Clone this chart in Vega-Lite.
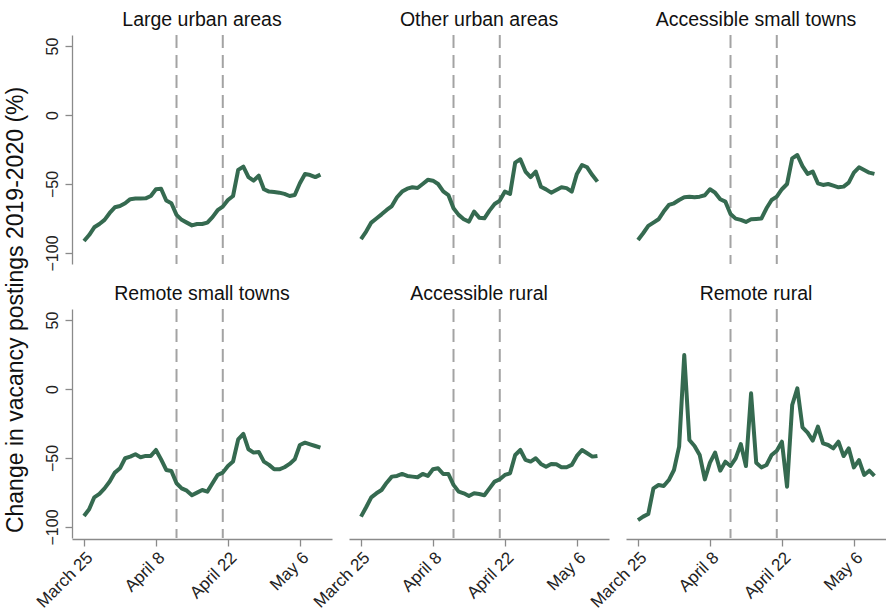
{
"$schema": "https://vega.github.io/schema/vega-lite/v6.json",
"padding": {"left": 5, "top": 9, "right": 0, "bottom": 0},
"title": {"text": "Change in vacancy postings 2019-2020 (%)", "orient": "left", "anchor": "middle", "fontSize": 23, "fontWeight": "normal", "font": "Liberation Sans", "color": "#111111", "offset": 5},
"data": {"values": [
{"r":"Large urban areas","e":"2020-04-12"},{"r":"Large urban areas","e":"2020-04-21"},
{"r":"Other urban areas","e":"2020-04-12"},{"r":"Other urban areas","e":"2020-04-21"},
{"r":"Accessible small towns","e":"2020-04-12"},{"r":"Accessible small towns","e":"2020-04-21"},
{"r":"Remote small towns","e":"2020-04-12"},{"r":"Remote small towns","e":"2020-04-21"},
{"r":"Accessible rural","e":"2020-04-12"},{"r":"Accessible rural","e":"2020-04-21"},
{"r":"Remote rural","e":"2020-04-12"},{"r":"Remote rural","e":"2020-04-21"},
{"r":"Large urban areas","d":"2020-03-25","v":-91.3},
{"r":"Large urban areas","d":"2020-03-26","v":-87},
{"r":"Large urban areas","d":"2020-03-27","v":-81.4},
{"r":"Large urban areas","d":"2020-03-28","v":-79},
{"r":"Large urban areas","d":"2020-03-29","v":-76},
{"r":"Large urban areas","d":"2020-03-30","v":-71},
{"r":"Large urban areas","d":"2020-03-31","v":-66.9},
{"r":"Large urban areas","d":"2020-04-01","v":-66},
{"r":"Large urban areas","d":"2020-04-02","v":-64},
{"r":"Large urban areas","d":"2020-04-03","v":-61},
{"r":"Large urban areas","d":"2020-04-04","v":-60.6},
{"r":"Large urban areas","d":"2020-04-05","v":-60.6},
{"r":"Large urban areas","d":"2020-04-06","v":-60.4},
{"r":"Large urban areas","d":"2020-04-07","v":-58.7},
{"r":"Large urban areas","d":"2020-04-08","v":-53.8},
{"r":"Large urban areas","d":"2020-04-09","v":-53.4},
{"r":"Large urban areas","d":"2020-04-10","v":-62},
{"r":"Large urban areas","d":"2020-04-11","v":-64},
{"r":"Large urban areas","d":"2020-04-12","v":-72.4},
{"r":"Large urban areas","d":"2020-04-13","v":-76},
{"r":"Large urban areas","d":"2020-04-14","v":-78},
{"r":"Large urban areas","d":"2020-04-15","v":-80},
{"r":"Large urban areas","d":"2020-04-16","v":-79},
{"r":"Large urban areas","d":"2020-04-17","v":-79},
{"r":"Large urban areas","d":"2020-04-18","v":-78},
{"r":"Large urban areas","d":"2020-04-19","v":-74},
{"r":"Large urban areas","d":"2020-04-20","v":-69},
{"r":"Large urban areas","d":"2020-04-21","v":-66.4},
{"r":"Large urban areas","d":"2020-04-22","v":-61.6},
{"r":"Large urban areas","d":"2020-04-23","v":-58.7},
{"r":"Large urban areas","d":"2020-04-24","v":-39.8},
{"r":"Large urban areas","d":"2020-04-25","v":-37.4},
{"r":"Large urban areas","d":"2020-04-26","v":-45},
{"r":"Large urban areas","d":"2020-04-27","v":-47.6},
{"r":"Large urban areas","d":"2020-04-28","v":-44},
{"r":"Large urban areas","d":"2020-04-29","v":-53.8},
{"r":"Large urban areas","d":"2020-04-30","v":-55.5},
{"r":"Large urban areas","d":"2020-05-01","v":-55.8},
{"r":"Large urban areas","d":"2020-05-02","v":-56.3},
{"r":"Large urban areas","d":"2020-05-03","v":-57.2},
{"r":"Large urban areas","d":"2020-05-04","v":-58.7},
{"r":"Large urban areas","d":"2020-05-05","v":-58},
{"r":"Large urban areas","d":"2020-05-06","v":-49.5},
{"r":"Large urban areas","d":"2020-05-07","v":-42.7},
{"r":"Large urban areas","d":"2020-05-08","v":-43.5},
{"r":"Large urban areas","d":"2020-05-09","v":-45},
{"r":"Large urban areas","d":"2020-05-10","v":-43.2},
{"r":"Other urban areas","d":"2020-03-25","v":-90},
{"r":"Other urban areas","d":"2020-03-26","v":-84.5},
{"r":"Other urban areas","d":"2020-03-27","v":-78},
{"r":"Other urban areas","d":"2020-03-28","v":-75},
{"r":"Other urban areas","d":"2020-03-29","v":-72},
{"r":"Other urban areas","d":"2020-03-30","v":-68.8},
{"r":"Other urban areas","d":"2020-03-31","v":-66},
{"r":"Other urban areas","d":"2020-04-01","v":-59.6},
{"r":"Other urban areas","d":"2020-04-02","v":-55.5},
{"r":"Other urban areas","d":"2020-04-03","v":-53.4},
{"r":"Other urban areas","d":"2020-04-04","v":-52.4},
{"r":"Other urban areas","d":"2020-04-05","v":-52.9},
{"r":"Other urban areas","d":"2020-04-06","v":-50},
{"r":"Other urban areas","d":"2020-04-07","v":-47},
{"r":"Other urban areas","d":"2020-04-08","v":-47.6},
{"r":"Other urban areas","d":"2020-04-09","v":-50},
{"r":"Other urban areas","d":"2020-04-10","v":-55.3},
{"r":"Other urban areas","d":"2020-04-11","v":-58},
{"r":"Other urban areas","d":"2020-04-12","v":-67.6},
{"r":"Other urban areas","d":"2020-04-13","v":-72.4},
{"r":"Other urban areas","d":"2020-04-14","v":-75.6},
{"r":"Other urban areas","d":"2020-04-15","v":-77.3},
{"r":"Other urban areas","d":"2020-04-16","v":-70},
{"r":"Other urban areas","d":"2020-04-17","v":-74.4},
{"r":"Other urban areas","d":"2020-04-18","v":-74.9},
{"r":"Other urban areas","d":"2020-04-19","v":-69.3},
{"r":"Other urban areas","d":"2020-04-20","v":-64.5},
{"r":"Other urban areas","d":"2020-04-21","v":-62},
{"r":"Other urban areas","d":"2020-04-22","v":-55.5},
{"r":"Other urban areas","d":"2020-04-23","v":-57.2},
{"r":"Other urban areas","d":"2020-04-24","v":-34.5},
{"r":"Other urban areas","d":"2020-04-25","v":-32.1},
{"r":"Other urban areas","d":"2020-04-26","v":-41},
{"r":"Other urban areas","d":"2020-04-27","v":-45},
{"r":"Other urban areas","d":"2020-04-28","v":-41},
{"r":"Other urban areas","d":"2020-04-29","v":-52},
{"r":"Other urban areas","d":"2020-04-30","v":-53.9},
{"r":"Other urban areas","d":"2020-05-01","v":-56.3},
{"r":"Other urban areas","d":"2020-05-02","v":-54.3},
{"r":"Other urban areas","d":"2020-05-03","v":-52.4},
{"r":"Other urban areas","d":"2020-05-04","v":-53},
{"r":"Other urban areas","d":"2020-05-05","v":-55.5},
{"r":"Other urban areas","d":"2020-05-06","v":-42.7},
{"r":"Other urban areas","d":"2020-05-07","v":-36.2},
{"r":"Other urban areas","d":"2020-05-08","v":-37.9},
{"r":"Other urban areas","d":"2020-05-09","v":-43.5},
{"r":"Other urban areas","d":"2020-05-10","v":-48.3},
{"r":"Accessible small towns","d":"2020-03-25","v":-90.6},
{"r":"Accessible small towns","d":"2020-03-26","v":-85.7},
{"r":"Accessible small towns","d":"2020-03-27","v":-80.4},
{"r":"Accessible small towns","d":"2020-03-28","v":-78},
{"r":"Accessible small towns","d":"2020-03-29","v":-75.6},
{"r":"Accessible small towns","d":"2020-03-30","v":-70},
{"r":"Accessible small towns","d":"2020-03-31","v":-65.2},
{"r":"Accessible small towns","d":"2020-04-01","v":-64},
{"r":"Accessible small towns","d":"2020-04-02","v":-61.6},
{"r":"Accessible small towns","d":"2020-04-03","v":-59.6},
{"r":"Accessible small towns","d":"2020-04-04","v":-59.2},
{"r":"Accessible small towns","d":"2020-04-05","v":-59.6},
{"r":"Accessible small towns","d":"2020-04-06","v":-59.2},
{"r":"Accessible small towns","d":"2020-04-07","v":-58.2},
{"r":"Accessible small towns","d":"2020-04-08","v":-53.8},
{"r":"Accessible small towns","d":"2020-04-09","v":-56.3},
{"r":"Accessible small towns","d":"2020-04-10","v":-61.1},
{"r":"Accessible small towns","d":"2020-04-11","v":-62.8},
{"r":"Accessible small towns","d":"2020-04-12","v":-71.7},
{"r":"Accessible small towns","d":"2020-04-13","v":-75.1},
{"r":"Accessible small towns","d":"2020-04-14","v":-76},
{"r":"Accessible small towns","d":"2020-04-15","v":-77.5},
{"r":"Accessible small towns","d":"2020-04-16","v":-75.6},
{"r":"Accessible small towns","d":"2020-04-17","v":-75.3},
{"r":"Accessible small towns","d":"2020-04-18","v":-75.1},
{"r":"Accessible small towns","d":"2020-04-19","v":-67.6},
{"r":"Accessible small towns","d":"2020-04-20","v":-61.6},
{"r":"Accessible small towns","d":"2020-04-21","v":-59.2},
{"r":"Accessible small towns","d":"2020-04-22","v":-53.8},
{"r":"Accessible small towns","d":"2020-04-23","v":-50},
{"r":"Accessible small towns","d":"2020-04-24","v":-31.4},
{"r":"Accessible small towns","d":"2020-04-25","v":-29},
{"r":"Accessible small towns","d":"2020-04-26","v":-37},
{"r":"Accessible small towns","d":"2020-04-27","v":-42.7},
{"r":"Accessible small towns","d":"2020-04-28","v":-41},
{"r":"Accessible small towns","d":"2020-04-29","v":-49.5},
{"r":"Accessible small towns","d":"2020-04-30","v":-50.7},
{"r":"Accessible small towns","d":"2020-05-01","v":-50},
{"r":"Accessible small towns","d":"2020-05-02","v":-51.2},
{"r":"Accessible small towns","d":"2020-05-03","v":-52.4},
{"r":"Accessible small towns","d":"2020-05-04","v":-51.9},
{"r":"Accessible small towns","d":"2020-05-05","v":-49},
{"r":"Accessible small towns","d":"2020-05-06","v":-41.8},
{"r":"Accessible small towns","d":"2020-05-07","v":-37.9},
{"r":"Accessible small towns","d":"2020-05-08","v":-39.8},
{"r":"Accessible small towns","d":"2020-05-09","v":-41.8},
{"r":"Accessible small towns","d":"2020-05-10","v":-42.7},
{"r":"Remote small towns","d":"2020-03-25","v":-92},
{"r":"Remote small towns","d":"2020-03-26","v":-87.2},
{"r":"Remote small towns","d":"2020-03-27","v":-78.5},
{"r":"Remote small towns","d":"2020-03-28","v":-76},
{"r":"Remote small towns","d":"2020-03-29","v":-72},
{"r":"Remote small towns","d":"2020-03-30","v":-67.1},
{"r":"Remote small towns","d":"2020-03-31","v":-60.6},
{"r":"Remote small towns","d":"2020-04-01","v":-57.5},
{"r":"Remote small towns","d":"2020-04-02","v":-50.2},
{"r":"Remote small towns","d":"2020-04-03","v":-49},
{"r":"Remote small towns","d":"2020-04-04","v":-47.3},
{"r":"Remote small towns","d":"2020-04-05","v":-49.5},
{"r":"Remote small towns","d":"2020-04-06","v":-48.5},
{"r":"Remote small towns","d":"2020-04-07","v":-48.5},
{"r":"Remote small towns","d":"2020-04-08","v":-44.2},
{"r":"Remote small towns","d":"2020-04-09","v":-51},
{"r":"Remote small towns","d":"2020-04-10","v":-58.7},
{"r":"Remote small towns","d":"2020-04-11","v":-59.4},
{"r":"Remote small towns","d":"2020-04-12","v":-68.3},
{"r":"Remote small towns","d":"2020-04-13","v":-72},
{"r":"Remote small towns","d":"2020-04-14","v":-73.7},
{"r":"Remote small towns","d":"2020-04-15","v":-77},
{"r":"Remote small towns","d":"2020-04-16","v":-75.1},
{"r":"Remote small towns","d":"2020-04-17","v":-73.2},
{"r":"Remote small towns","d":"2020-04-18","v":-74.4},
{"r":"Remote small towns","d":"2020-04-19","v":-68.3},
{"r":"Remote small towns","d":"2020-04-20","v":-62.3},
{"r":"Remote small towns","d":"2020-04-21","v":-60.6},
{"r":"Remote small towns","d":"2020-04-22","v":-55.8},
{"r":"Remote small towns","d":"2020-04-23","v":-52.6},
{"r":"Remote small towns","d":"2020-04-24","v":-36.5},
{"r":"Remote small towns","d":"2020-04-25","v":-32.6},
{"r":"Remote small towns","d":"2020-04-26","v":-43.7},
{"r":"Remote small towns","d":"2020-04-27","v":-46.1},
{"r":"Remote small towns","d":"2020-04-28","v":-45.6},
{"r":"Remote small towns","d":"2020-04-29","v":-52.6},
{"r":"Remote small towns","d":"2020-04-30","v":-55},
{"r":"Remote small towns","d":"2020-05-01","v":-58.2},
{"r":"Remote small towns","d":"2020-05-02","v":-58.2},
{"r":"Remote small towns","d":"2020-05-03","v":-56.7},
{"r":"Remote small towns","d":"2020-05-04","v":-54.3},
{"r":"Remote small towns","d":"2020-05-05","v":-51},
{"r":"Remote small towns","d":"2020-05-06","v":-40.6},
{"r":"Remote small towns","d":"2020-05-07","v":-38.9},
{"r":"Remote small towns","d":"2020-05-08","v":-40.1},
{"r":"Remote small towns","d":"2020-05-09","v":-41.3},
{"r":"Remote small towns","d":"2020-05-10","v":-42.5},
{"r":"Accessible rural","d":"2020-03-25","v":-92.5},
{"r":"Accessible rural","d":"2020-03-26","v":-85.7},
{"r":"Accessible rural","d":"2020-03-27","v":-78.5},
{"r":"Accessible rural","d":"2020-03-28","v":-75.6},
{"r":"Accessible rural","d":"2020-03-29","v":-73.2},
{"r":"Accessible rural","d":"2020-03-30","v":-67.9},
{"r":"Accessible rural","d":"2020-03-31","v":-63.5},
{"r":"Accessible rural","d":"2020-04-01","v":-63},
{"r":"Accessible rural","d":"2020-04-02","v":-61.6},
{"r":"Accessible rural","d":"2020-04-03","v":-63},
{"r":"Accessible rural","d":"2020-04-04","v":-63.5},
{"r":"Accessible rural","d":"2020-04-05","v":-64},
{"r":"Accessible rural","d":"2020-04-06","v":-61.6},
{"r":"Accessible rural","d":"2020-04-07","v":-63},
{"r":"Accessible rural","d":"2020-04-08","v":-58.2},
{"r":"Accessible rural","d":"2020-04-09","v":-57.5},
{"r":"Accessible rural","d":"2020-04-10","v":-61.6},
{"r":"Accessible rural","d":"2020-04-11","v":-61.6},
{"r":"Accessible rural","d":"2020-04-12","v":-69.5},
{"r":"Accessible rural","d":"2020-04-13","v":-74.4},
{"r":"Accessible rural","d":"2020-04-14","v":-75.6},
{"r":"Accessible rural","d":"2020-04-15","v":-77.5},
{"r":"Accessible rural","d":"2020-04-16","v":-75.6},
{"r":"Accessible rural","d":"2020-04-17","v":-76.1},
{"r":"Accessible rural","d":"2020-04-18","v":-77},
{"r":"Accessible rural","d":"2020-04-19","v":-72},
{"r":"Accessible rural","d":"2020-04-20","v":-67.1},
{"r":"Accessible rural","d":"2020-04-21","v":-65.4},
{"r":"Accessible rural","d":"2020-04-22","v":-62.3},
{"r":"Accessible rural","d":"2020-04-23","v":-61.1},
{"r":"Accessible rural","d":"2020-04-24","v":-47.8},
{"r":"Accessible rural","d":"2020-04-25","v":-44.2},
{"r":"Accessible rural","d":"2020-04-26","v":-51.4},
{"r":"Accessible rural","d":"2020-04-27","v":-52.6},
{"r":"Accessible rural","d":"2020-04-28","v":-50.2},
{"r":"Accessible rural","d":"2020-04-29","v":-54.3},
{"r":"Accessible rural","d":"2020-04-30","v":-56.3},
{"r":"Accessible rural","d":"2020-05-01","v":-54.3},
{"r":"Accessible rural","d":"2020-05-02","v":-54.6},
{"r":"Accessible rural","d":"2020-05-03","v":-56.7},
{"r":"Accessible rural","d":"2020-05-04","v":-56.7},
{"r":"Accessible rural","d":"2020-05-05","v":-55},
{"r":"Accessible rural","d":"2020-05-06","v":-48.5},
{"r":"Accessible rural","d":"2020-05-07","v":-44.2},
{"r":"Accessible rural","d":"2020-05-08","v":-46.6},
{"r":"Accessible rural","d":"2020-05-09","v":-49},
{"r":"Accessible rural","d":"2020-05-10","v":-48.5},
{"r":"Remote rural","d":"2020-03-25","v":-95},
{"r":"Remote rural","d":"2020-03-26","v":-92.5},
{"r":"Remote rural","d":"2020-03-27","v":-90.6},
{"r":"Remote rural","d":"2020-03-28","v":-72},
{"r":"Remote rural","d":"2020-03-29","v":-69.6},
{"r":"Remote rural","d":"2020-03-30","v":-70.3},
{"r":"Remote rural","d":"2020-03-31","v":-66},
{"r":"Remote rural","d":"2020-04-01","v":-58.7},
{"r":"Remote rural","d":"2020-04-02","v":-41.8},
{"r":"Remote rural","d":"2020-04-03","v":24.6},
{"r":"Remote rural","d":"2020-04-04","v":-37},
{"r":"Remote rural","d":"2020-04-05","v":-41.3},
{"r":"Remote rural","d":"2020-04-06","v":-47.8},
{"r":"Remote rural","d":"2020-04-07","v":-65.5},
{"r":"Remote rural","d":"2020-04-08","v":-53.4},
{"r":"Remote rural","d":"2020-04-09","v":-46.1},
{"r":"Remote rural","d":"2020-04-10","v":-59.2},
{"r":"Remote rural","d":"2020-04-11","v":-52.7},
{"r":"Remote rural","d":"2020-04-12","v":-55.8},
{"r":"Remote rural","d":"2020-04-13","v":-50.3},
{"r":"Remote rural","d":"2020-04-14","v":-39.9},
{"r":"Remote rural","d":"2020-04-15","v":-55.8},
{"r":"Remote rural","d":"2020-04-16","v":-3.1},
{"r":"Remote rural","d":"2020-04-17","v":-53.4},
{"r":"Remote rural","d":"2020-04-18","v":-56.8},
{"r":"Remote rural","d":"2020-04-19","v":-55.1},
{"r":"Remote rural","d":"2020-04-20","v":-47.8},
{"r":"Remote rural","d":"2020-04-21","v":-44.7},
{"r":"Remote rural","d":"2020-04-22","v":-38.2},
{"r":"Remote rural","d":"2020-04-23","v":-70.8},
{"r":"Remote rural","d":"2020-04-24","v":-11.6},
{"r":"Remote rural","d":"2020-04-25","v":0.5},
{"r":"Remote rural","d":"2020-04-26","v":-27.8},
{"r":"Remote rural","d":"2020-04-27","v":-31.6},
{"r":"Remote rural","d":"2020-04-28","v":-37.4},
{"r":"Remote rural","d":"2020-04-29","v":-27.3},
{"r":"Remote rural","d":"2020-04-30","v":-39.4},
{"r":"Remote rural","d":"2020-05-01","v":-40.6},
{"r":"Remote rural","d":"2020-05-02","v":-43},
{"r":"Remote rural","d":"2020-05-03","v":-38.2},
{"r":"Remote rural","d":"2020-05-04","v":-48.6},
{"r":"Remote rural","d":"2020-05-05","v":-43},
{"r":"Remote rural","d":"2020-05-06","v":-56.8},
{"r":"Remote rural","d":"2020-05-07","v":-51.5},
{"r":"Remote rural","d":"2020-05-08","v":-62.3},
{"r":"Remote rural","d":"2020-05-09","v":-59.2},
{"r":"Remote rural","d":"2020-05-10","v":-63}
]},
"facet": {"field": "r", "type": "nominal", "sort": ["Large urban areas", "Other urban areas", "Accessible small towns", "Remote small towns", "Accessible rural", "Remote rural"], "header": {"title": null, "labelFontSize": 19.5, "labelFont": "Liberation Sans", "labelColor": "#111111", "labelPadding": 4}},
"columns": 3,
"spacing": {"row": 18, "column": 17},
"spec": {
  "width": 260,
  "height": 229,
  "layer": [
    {
      "transform": [{"filter": "isValid(datum.e)"}],
      "mark": {"type": "rule", "color": "#a3a3a3", "strokeWidth": 2, "strokeDash": [13, 7]},
      "encoding": {"x": {"field": "e", "type": "temporal"}}
    },
    {
      "transform": [{"filter": "isValid(datum.v)"}],
      "mark": {"type": "line", "color": "#356a50", "strokeWidth": 4, "strokeJoin": "round"},
      "encoding": {
        "x": {"field": "d", "type": "temporal",
          "scale": {"type": "utc", "domain": [{"year": 2020, "month": 3, "date": 22, "hours": 16, "utc": true}, {"year": 2020, "month": 5, "date": 12, "hours": 6, "utc": true}], "nice": false},
          "axis": {"title": null, "values": [{"year": 2020, "month": 3, "date": 25, "utc": true}, {"year": 2020, "month": 4, "date": 8, "utc": true}, {"year": 2020, "month": 4, "date": 22, "utc": true}, {"year": 2020, "month": 5, "date": 6, "utc": true}], "format": "%B %-d", "labelAngle": -45, "labelFlush": false, "labelOverlap": false, "labelPadding": 3, "labelFontSize": 17}},
        "y": {"field": "v", "type": "quantitative",
          "scale": {"domain": [-108, 58], "nice": false, "zero": false},
          "axis": {"title": null, "values": [-100, -50, 0, 50], "labelAngle": -90, "labelAlign": "center", "labelBaseline": "bottom", "labelPadding": 5, "labelFlush": false, "labelFontSize": 16}}
      }
    }
  ]
},
"config": {
  "view": {"stroke": null},
  "font": "Liberation Sans",
  "axis": {"grid": false, "domainColor": "#8a8a8a", "tickColor": "#8a8a8a", "domainWidth": 1.3, "tickWidth": 1.3, "tickSize": 7, "labelColor": "#222222", "labelFont": "Liberation Sans", "labelFontSize": 15}
}
}
